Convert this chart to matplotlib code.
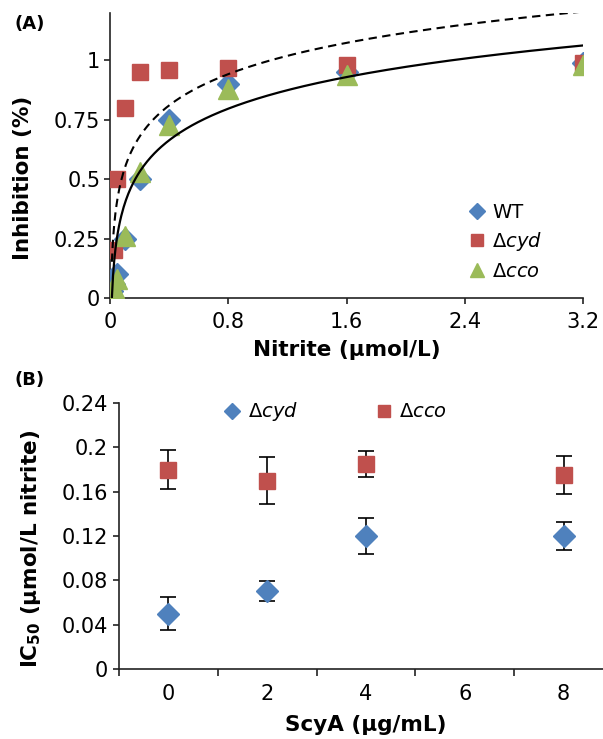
import numpy as np
import matplotlib
matplotlib.use('Agg')
import matplotlib.pyplot as plt
from matplotlib.ticker import FixedLocator

# panel A data
nitrite = [0, 0.0125, 0.025, 0.05, 0.1, 0.2, 0.4, 0.8, 1.6, 3.2]
inh_wt = [0, 0.03, 0.06, 0.1, 0.25, 0.5, 0.75, 0.9, 0.95, 0.99]
inh_cyd = [0, 0.02, 0.2, 0.5, 0.8, 0.95, 0.96, 0.97, 0.98, 0.99]
inh_cco = [0, 0.02, 0.04, 0.08, 0.26, 0.53, 0.73, 0.88, 0.94, 0.98]
# log trendlines  y = a*ln(x) + b
fit_solid = (0.192, 0.84)
fit_dashed = (0.19, 0.985)

# panel B data
scya = ['0', '2', '4', '6', '8']
ic50_cyd = [0.05, 0.07, 0.12, np.nan, 0.12]
err_cyd = [0.015, 0.009, 0.016, np.nan, 0.013]
ic50_cco = [0.18, 0.17, 0.185, np.nan, 0.175]
err_cco = [0.018, 0.021, 0.012, np.nan, 0.017]

BLUE = '#4F81BD'
RED = '#C0504D'
GREEN = '#9BBB59'
W, H = 603, 739

plt.rcParams['font.family'] = 'DejaVu Sans'
plt.rcParams['mathtext.fontset'] = 'dejavusans'

fig = plt.figure(figsize=(W / 100, H / 100), dpi=100)

def style_axes(ax):
    for s in ['top', 'right']:
        ax.spines[s].set_visible(False)
    for s in ['left', 'bottom']:
        ax.spines[s].set_linewidth(1.2)
        ax.spines[s].set_color('#222222')

# ---- panel A
axA = fig.add_axes([110 / W, 1 - 298 / H, 473 / W, 285 / H])
style_axes(axA)
axA.plot(nitrite, inh_wt, 'D', color=BLUE, ms=11.5, mec=BLUE, label='WT', zorder=3)
axA.plot(nitrite, inh_cyd, 's', color=RED, ms=12, mec=RED, label='Δ$\\it{cyd}$', zorder=3)
axA.plot(nitrite, inh_cco, '^', color=GREEN, ms=14, mec=GREEN, label='Δ$\\it{cco}$', zorder=3)
xs = np.linspace(0.0125, 3.2, 400)
axA.plot(xs, fit_solid[0] * np.log(xs) + fit_solid[1], '-', color='black', lw=1.6, zorder=4)
axA.plot(xs, fit_dashed[0] * np.log(xs) + fit_dashed[1], '--', color='black', lw=1.5,
         dashes=(4, 2.6), zorder=4)
axA.set_xlim(0, 3.2)
axA.set_ylim(0, 1.2)
axA.set_xticks([0, 0.8, 1.6, 2.4, 3.2])
axA.set_xticklabels(['0', '0.8', '1.6', '2.4', '3.2'])
axA.set_yticks([0, 0.25, 0.5, 0.75, 1])
axA.set_yticklabels(['0', '0.25', '0.5', '0.75', '1'])
axA.tick_params(axis='both', direction='out', length=4, width=1.2, labelsize=15, color='#222222')
axA.tick_params(axis='x', pad=6)
axA.tick_params(axis='y', pad=3)
axA.set_xlabel('Nitrite (µmol/L)', fontsize=15.5, fontweight='bold', labelpad=6)
axA.set_ylabel('Inhibition (%)', fontsize=15.5, fontweight='bold')
axA.yaxis.set_label_coords(-0.163, 0.42)
axA.legend(loc='upper left', bbox_to_anchor=(0.755, 0.335), frameon=False, fontsize=14,
           numpoints=1, handlelength=1.0, handletextpad=0.3, borderpad=0, borderaxespad=0,
           labelspacing=0.45, markerscale=0.75)
fig.text(15 / W, 1 - 24 / H, '(A)', fontsize=13, fontweight='bold', va='center', ha='left')

# ---- panel B
axB = fig.add_axes([119 / W, 1 - 669 / H, 494 / W, 266 / H])
style_axes(axB)
pos = np.arange(len(scya))
eb1 = axB.errorbar(pos, ic50_cyd, yerr=err_cyd, fmt='D', color=BLUE, ms=11, mec=BLUE,
                   ecolor='black', elinewidth=1.2, capsize=5.5, capthick=1.2, zorder=3)
eb2 = axB.errorbar(pos, ic50_cco, yerr=err_cco, fmt='s', color=RED, ms=11.5, mec=RED,
                   ecolor='black', elinewidth=1.2, capsize=5.5, capthick=1.2, zorder=3)
axB.set_xlim(-0.5, len(scya) - 0.5)
axB.set_ylim(0, 0.24)
axB.set_yticks([0, 0.04, 0.08, 0.12, 0.16, 0.2, 0.24])
axB.set_yticklabels(['0', '0.04', '0.08', '0.12', '0.16', '0.2', '0.24'])
axB.set_xticks(pos)
axB.set_xticklabels(scya)
axB.xaxis.set_minor_locator(FixedLocator(np.arange(-0.5, len(scya), 1.0)))
axB.tick_params(axis='x', which='major', length=0, pad=11, labelsize=15)
axB.tick_params(axis='x', which='minor', direction='out', length=5, width=1.2, color='#222222')
axB.tick_params(axis='y', direction='out', length=4, width=1.2, pad=4, labelsize=15, color='#222222')
axB.set_xlabel('ScyA (µg/mL)', fontsize=15.5, fontweight='bold', labelpad=8)
axB.set_ylabel('IC$_{\\mathbf{50}}$ (µmol/L nitrite)', fontsize=15.5, fontweight='bold')
axB.yaxis.set_label_coords(-0.154, 0.45)
axB.legend([eb1[0], eb2[0]], ['Δ$\\it{cyd}$', 'Δ$\\it{cco}$'], loc='upper left',
           bbox_to_anchor=(0.21, 1.01), ncol=2, frameon=False, fontsize=14,
           numpoints=1, handlelength=1.0, handletextpad=0.3, borderpad=0, borderaxespad=0,
           columnspacing=3.9, markerscale=0.75)
fig.text(15 / W, 1 - 380 / H, '(B)', fontsize=13, fontweight='bold', va='center', ha='left')

fig.savefig('out.png', dpi=100)
plt.close(fig)
